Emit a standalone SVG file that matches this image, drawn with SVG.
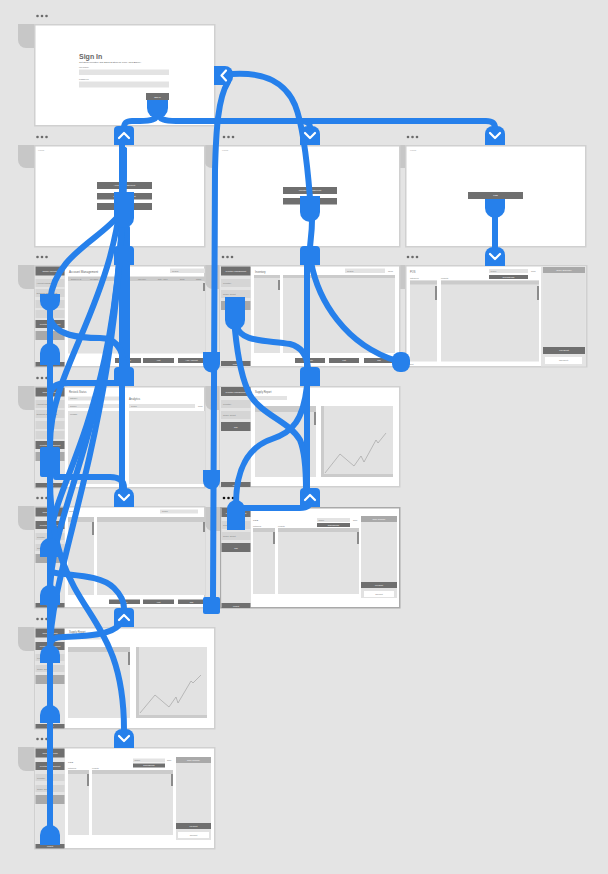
<svg xmlns="http://www.w3.org/2000/svg" width="608" height="874" viewBox="0 0 608 874">
<defs>
<style>
.bg{fill:#e4e4e4}
.tab{fill:#c7c7c7}
.frame{fill:#fff;stroke:#d0d0d0;stroke-width:1.5}
.sel{stroke:#a9a9a9}
.dots{fill:#6b6b6b}
.side{fill:#e4e4e4}
.item{fill:#d5d5d5}
.dk{fill:#6f6f6f}
.md{fill:#a9a9a9}
.panel{fill:#e2e2e2}
.ph{fill:#cbcbcb}
.sb{fill:#8c8c8c}
.field{fill:#e3e3e3}
.white{fill:#fff}
text{font-family:"Liberation Sans",Arial,sans-serif}
.t{fill:#7a7a7a;font-size:2.2px}
.h{fill:#666;font-size:3px}
.w{fill:#fff;font-size:2.2px;text-anchor:middle}
.c{fill:#777;font-size:2.2px;text-anchor:middle}
.wire{fill:none;stroke:#2680eb;stroke-width:6;stroke-linecap:round;stroke-linejoin:round}
.blue{fill:#2680eb}
.chev{fill:none;stroke:#fff;stroke-width:2.2;stroke-linecap:round;stroke-linejoin:round}
.chart{fill:none;stroke:#9a9a9a;stroke-width:0.6}
</style>
<g id="tab-down"><path class="blue" d="M-10,0 V-11 A8,8 0 0 1 -2,-19 H2 A8,8 0 0 1 10,-11 V0 Z"/><polyline class="chev" points="-5,-12 0,-7 5,-12"/></g>
<g id="tab-up"><path class="blue" d="M-10,0 V-15 A4,4 0 0 1 -6,-19 H6 A4,4 0 0 1 10,-15 V0 Z"/><polyline class="chev" points="-5,-7 0,-12 5,-7"/></g>
<g id="tab-plain"><path class="blue" d="M-10,0 V-15 A4,4 0 0 1 -6,-19 H6 A4,4 0 0 1 10,-15 V0 Z"/></g>
<g id="dots3"><circle cx="0" cy="0" r="1.3"/><circle cx="4.5" cy="0" r="1.3"/><circle cx="9" cy="0" r="1.3"/></g>
</defs>

<rect class="bg" x="0" y="0" width="608" height="874"/>

<!-- artboard tabs -->
<g id="tabs">
<path class="tab" d="M34,24 V48 H26 A8,8 0 0 1 18,40 V24 Z"/>
<path class="tab" d="M34,145 V168 H26 A8,8 0 0 1 18,160 V145 Z"/>
<path class="tab" d="M216,145 V168 H212 A8,8 0 0 1 204,160 V145 Z"/>
<path class="tab" d="M405,145 V168 H399 A8,8 0 0 1 391,160 V145 Z"/>
<path class="tab" d="M34,265 V289 H26 A8,8 0 0 1 18,281 V265 Z"/>
<path class="tab" d="M219,265 V289 H213 A8,8 0 0 1 205,281 V265 Z"/>
<path class="tab" d="M405,265 V289 H399 A8,8 0 0 1 391,281 V265 Z"/>
<path class="tab" d="M34,386 V410 H26 A8,8 0 0 1 18,402 V386 Z"/>
<path class="tab" d="M219,386 V410 H213 A8,8 0 0 1 205,402 V386 Z"/>
<path class="tab" d="M34,506 V530 H26 A8,8 0 0 1 18,522 V506 Z"/>
<path class="tab" d="M220,507 V531 H213 A8,8 0 0 1 205,523 V507 Z"/>
<path class="tab" d="M34,627 V651 H26 A8,8 0 0 1 18,643 V627 Z"/>
<path class="tab" d="M34,747 V771 H26 A8,8 0 0 1 18,763 V747 Z"/>
</g>

<!-- sign in -->
<g id="screen-signin">
<use href="#dots3" class="dots" x="37.5" y="16"/>
<rect class="frame" x="34.75" y="24.75" width="180" height="101"/>
<text x="79" y="59" style="font-size:7px;font-weight:bold;fill:#666">Sign In</text>
<text class="t" x="79" y="63" style="font-size:2.3px;fill:#555">Get Shop Inventory and Sales System for 'Kopi Ahli's Bakery'</text>
<text class="t" x="79" y="67.8" style="font-size:2.2px">Username</text>
<rect class="field" x="79" y="69.5" width="90" height="5.5"/>
<text class="t" x="79" y="79.8" style="font-size:2.2px">Password</text>
<rect class="field" x="79" y="81.5" width="90" height="6"/>
<rect class="dk" x="146" y="93" width="23" height="7"/>
<text class="w" x="157.5" y="97.5">Sign in</text>
</g>

<!-- role home screens -->
<g id="screen-admin-home">
<use href="#dots3" class="dots" x="37.5" y="137"/>
<rect class="frame" x="34.75" y="145.75" width="170" height="101"/>
<text class="t" x="38" y="151" style="fill:#aaa">LOGO</text>
<rect class="dk" x="97" y="182" width="55" height="7"/><text class="w" x="124.5" y="186.4">Account Management</text>
<rect class="dk" x="97" y="193" width="55" height="6.5"/><text class="w" x="124.5" y="197.2">Inventory Management</text>
<rect class="dk" x="97" y="203" width="55" height="7"/><text class="w" x="124.5" y="207.4">POS</text>
</g>

<g id="screen-inventory-home">
<use href="#dots3" class="dots" x="224" y="137"/>
<rect class="frame" x="216.75" y="145.75" width="183" height="101"/>
<text class="t" x="222" y="151" style="fill:#aaa">LOGO</text>
<rect class="dk" x="283" y="187" width="54" height="7"/><text class="w" x="310" y="191.4">Inventory Management</text>
<rect class="dk" x="283" y="198" width="54" height="6.5"/><text class="w" x="310" y="202.2">Supply Report</text>
</g>

<g id="screen-cashier-home">
<use href="#dots3" class="dots" x="408" y="137"/>
<rect class="frame" x="405.75" y="145.75" width="180" height="101"/>
<text class="t" x="410" y="151" style="fill:#aaa">LOGO</text>
<rect class="dk" x="468" y="192" width="55" height="7"/><text class="w" x="495.5" y="196.4">POS</text>
</g>

<!-- account management -->
<g id="screen-accounts">
<use href="#dots3" class="dots" x="37.5" y="257"/>
<rect class="frame" x="34.75" y="265.75" width="170" height="101"/>
<rect class="side" x="35.5" y="266.5" width="29.5" height="100"/>
<rect class="dk" x="35.5" y="266.5" width="29" height="9"/><text class="w" x="50" y="272">adminAccounts</text>
<rect class="item" x="35.5" y="279" width="29" height="8"/><text class="t" x="36.5" y="284" style="font-size:2px">Account Management</text>
<rect class="item" x="35.5" y="289" width="29" height="8"/><text class="t" x="36.5" y="294" style="font-size:2px">Suppliers Management</text>
<rect class="item" x="35.5" y="300" width="29" height="8"/>
<rect class="item" x="35.5" y="310" width="29" height="8"/>
<rect class="dk" x="35.5" y="320" width="29" height="8"/><text class="w" x="50" y="325" style="font-size:2px">Inventory Management</text>
<rect class="md" x="35.5" y="331" width="29" height="9"/>
<rect class="dk" x="35.5" y="362" width="29" height="4.5"/><text class="w" x="50" y="365.3" style="font-size:2px">Logout</text>
<text class="h" x="69" y="272.5">Account Management</text>
<rect class="field" x="170" y="268.5" width="35" height="4.5"/><text class="t" x="172" y="271.6" style="font-size:2px">Search</text>
<rect class="ph" x="68" y="276.5" width="137" height="5"/>
<text class="t" x="71" y="279.8" style="font-size:1.8px">Employee ID</text>
<text class="t" x="90" y="279.8" style="font-size:1.8px">Full Name</text>
<text class="t" x="117" y="279.8" style="font-size:1.8px">Username</text>
<text class="t" x="138" y="279.8" style="font-size:1.8px">User Role</text>
<text class="t" x="158" y="279.8" style="font-size:1.8px">Date Added</text>
<text class="t" x="180" y="279.8" style="font-size:1.8px">Email</text>
<text class="t" x="196" y="279.8" style="font-size:1.8px">Status</text>
<rect class="panel" x="68" y="281.5" width="137" height="72"/>
<rect class="sb" x="203" y="283" width="2" height="8"/>
<rect class="dk" x="115" y="358" width="26" height="5"/><text class="w" x="128" y="361.3">delete</text>
<rect class="dk" x="143" y="358" width="31" height="5"/><text class="w" x="158.5" y="361.3">edit</text>
<rect class="dk" x="178" y="358" width="27" height="5"/><text class="w" x="191.5" y="361.3">Add Account</text>
</g>

<!-- inventory -->
<g id="screen-inventory">
<use href="#dots3" class="dots" x="223" y="257"/>
<rect class="frame" x="219.75" y="265.75" width="180" height="101"/>
<rect class="side" x="220.5" y="266.5" width="30.5" height="100"/>
<rect class="dk" x="221" y="266.5" width="29.5" height="9"/><text class="w" x="235.75" y="272" style="font-size:2px">Inventory Management</text>
<rect class="item" x="221" y="279" width="29.5" height="8"/><text class="t" x="223" y="284" style="font-size:2px">Inventory</text>
<rect class="item" x="221" y="290" width="29.5" height="8"/><text class="t" x="223" y="295" style="font-size:2px">Supply Report</text>
<rect class="md" x="221" y="301" width="29.5" height="9"/>
<rect class="dk" x="221" y="361" width="29.5" height="5"/><text class="w" x="235.75" y="364.5" style="font-size:2px">Logout</text>
<text class="h" x="255" y="272.5" style="font-size:2.6px">Inventory</text>
<rect class="field" x="345" y="268.5" width="40" height="4.5"/><text class="t" x="347" y="271.6" style="font-size:2px">Search</text>
<text class="t" x="388" y="271.8" style="font-size:2px">Show</text>
<rect class="panel" x="254" y="275" width="26" height="78"/><rect class="ph" x="254" y="275" width="26" height="3"/><rect class="sb" x="278" y="280" width="2" height="10"/>
<rect class="panel" x="283" y="275" width="112" height="78"/><rect class="ph" x="283" y="275" width="112" height="3"/>
<rect class="dk" x="295" y="358" width="30" height="5"/><text class="w" x="310" y="361.3">delete</text>
<rect class="dk" x="329" y="358" width="30" height="5"/><text class="w" x="344" y="361.3">edit</text>
<rect class="dk" x="364" y="358" width="30" height="5"/><text class="w" x="379" y="361.3">add</text>
</g>

<!-- cashier pos -->
<g id="screen-pos">
<use href="#dots3" class="dots" x="408" y="257"/>
<rect class="frame" x="405.75" y="265.75" width="181" height="101"/>
<rect class="side" x="541" y="266.5" width="45" height="100"/>
<rect class="panel" x="543" y="267" width="42" height="80"/>
<rect class="md" x="543" y="267" width="42" height="6"/><text class="w" x="564" y="270.8">Order Summary</text>
<rect class="dk" x="543" y="347" width="42" height="7"/><text class="w" x="564" y="351.3">Pay/Debit</text>
<rect class="white" x="545" y="357" width="37" height="7"/><text class="c" x="563.5" y="361.3">Checkout</text>
<text class="h" x="410" y="272.5" style="font-size:2.6px">POS</text>
<rect class="field" x="489" y="269" width="39" height="4"/><text class="t" x="490.5" y="271.8" style="font-size:1.8px">Search</text>
<text class="t" x="531" y="272" style="font-size:1.8px">Show</text>
<rect class="dk" x="489" y="275" width="39" height="4"/><text class="w" x="508.5" y="277.8" style="font-size:1.8px">Search/Browse</text>
<text class="t" x="410" y="279.3" style="font-size:1.8px">Categories</text>
<text class="t" x="441" y="279.3" style="font-size:1.8px">Products</text>
<rect class="panel" x="410" y="280.5" width="27" height="81"/><rect class="ph" x="410" y="280.5" width="27" height="4"/><rect class="sb" x="435" y="286" width="2" height="14"/>
<rect class="panel" x="441" y="280.5" width="98" height="81"/><rect class="ph" x="441" y="280.5" width="98" height="4"/><rect class="sb" x="537" y="286" width="2" height="14"/>
<text class="t" x="408" y="365" style="font-size:1.8px">Logout</text>
</g>

<!-- analytics -->
<g id="screen-analytics">
<use href="#dots3" class="dots" x="37.5" y="378"/>
<rect class="frame" x="34.75" y="386.75" width="170" height="101"/>
<rect class="side" x="35.5" y="387.5" width="29.5" height="100"/>
<rect class="dk" x="35.5" y="387.5" width="29" height="9"/><text class="w" x="50" y="393">adminAccounts</text>
<rect class="item" x="35.5" y="400" width="29" height="8"/><text class="t" x="36.5" y="405" style="font-size:2px">Account Management</text>
<rect class="item" x="35.5" y="410" width="29" height="8"/><text class="t" x="36.5" y="415" style="font-size:2px">Suppliers Management</text>
<rect class="item" x="35.5" y="421" width="29" height="8"/>
<rect class="item" x="35.5" y="431" width="29" height="8"/>
<rect class="dk" x="35.5" y="441" width="29" height="8"/><text class="w" x="50" y="446" style="font-size:2px">Inventory Management</text>
<rect class="md" x="35.5" y="452" width="29" height="9"/>
<rect class="dk" x="35.5" y="483" width="29" height="4.5"/><text class="w" x="50" y="486.3" style="font-size:2px">Logout</text>
<text class="h" x="69" y="392.5" style="font-size:2.6px">Restock Status</text>
<rect class="field" x="68" y="396.5" width="54" height="4"/><text class="t" x="70" y="399.3" style="font-size:1.8px">Category</text>
<rect class="field" x="68" y="404" width="54" height="4"/><text class="t" x="70" y="406.8" style="font-size:1.8px">Supplier</text>
<rect class="panel" x="68" y="411" width="54" height="73"/><text class="t" x="70" y="414.5" style="font-size:1.8px">Message</text>
<text class="h" x="129" y="400" style="font-size:2.8px">Analytics</text>
<rect class="field" x="129" y="404" width="66" height="4"/><text class="t" x="131" y="406.8" style="font-size:1.8px">Search</text>
<text class="t" x="198" y="406.8" style="font-size:1.8px">Show</text>
<rect class="panel" x="129" y="411" width="76" height="73"/>
</g>

<!-- supply report -->
<g id="screen-supply-report">
<rect class="frame" x="219.75" y="386.75" width="180" height="100"/>
<rect class="side" x="220.5" y="387.5" width="30.5" height="99"/>
<rect class="dk" x="221" y="387" width="29.5" height="9"/><text class="w" x="235.75" y="392.8" style="font-size:2px">Inventory Management</text>
<rect class="item" x="221" y="400" width="29.5" height="8"/><text class="t" x="223" y="405" style="font-size:2px">Inventory</text>
<rect class="item" x="221" y="411" width="29.5" height="8"/><text class="t" x="223" y="416" style="font-size:2px">Supply Report</text>
<rect class="dk" x="221" y="422" width="29.5" height="9"/><text class="w" x="235.75" y="427.5">add</text>
<rect class="dk" x="221" y="482" width="29.5" height="5"/><text class="w" x="235.75" y="485.5" style="font-size:2px">Logout</text>
<text class="h" x="255" y="392.5" style="font-size:2.6px">Supply Report</text>
<rect class="field" x="255" y="396" width="32" height="4"/>
<rect class="panel" x="255" y="406" width="61" height="71"/><rect class="ph" x="255" y="406" width="61" height="6"/><rect class="sb" x="314" y="412" width="2" height="13"/>
<rect class="panel" x="321" y="406" width="72" height="71"/><rect class="ph" x="321" y="406" width="3" height="71"/><rect class="ph" x="321" y="474" width="72" height="3"/>
<polyline class="chart" points="325,473 340,454 354,466 361,456 364,462 376,440 378,443 386,433"/>
</g>

<!-- admin inventory -->
<g id="screen-admin-inventory">
<use href="#dots3" class="dots" x="37.5" y="498"/>
<rect class="frame" x="34.75" y="506.75" width="170" height="101"/>
<rect class="side" x="35.5" y="507.5" width="29.5" height="100"/>
<rect class="dk" x="35.5" y="507.5" width="29" height="9"/><text class="w" x="50" y="513">adminAccounts</text>
<rect class="dk" x="35.5" y="521" width="29" height="8"/><text class="w" x="50" y="526" style="font-size:2px">Inventory Management</text>
<rect class="item" x="35.5" y="533" width="29" height="7"/><text class="t" x="37" y="537.5" style="font-size:2px">Inventory</text>
<rect class="item" x="35.5" y="544" width="29" height="7"/><text class="t" x="37" y="548.5" style="font-size:2px">Supply Report</text>
<rect class="md" x="35.5" y="554" width="29" height="9"/>
<rect class="dk" x="35.5" y="603" width="29" height="4.5"/><text class="w" x="50" y="606.3" style="font-size:2px">Logout</text>
<text class="h" x="69" y="512" style="font-size:2.4px">Inventory</text>
<rect class="field" x="160" y="509.5" width="38" height="4"/><text class="t" x="162" y="512.3" style="font-size:1.8px">Search</text>
<rect class="panel" x="68" y="517" width="26" height="78"/><rect class="ph" x="68" y="517" width="26" height="5"/><rect class="sb" x="92" y="522" width="2" height="13"/>
<rect class="panel" x="97" y="517" width="108" height="78"/><rect class="ph" x="97" y="517" width="108" height="5"/><rect class="sb" x="203" y="522" width="2" height="10"/>
<rect class="dk" x="109" y="599.5" width="31" height="4.5"/><text class="w" x="124.5" y="602.6">delete</text>
<rect class="dk" x="143" y="599.5" width="31" height="4.5"/><text class="w" x="158.5" y="602.6">edit</text>
<rect class="dk" x="178" y="599.5" width="27" height="4.5"/><text class="w" x="191.5" y="602.6">add</text>
</g>

<!-- inventory pos -->
<g id="screen-inventory-pos">
<use href="#dots3" x="224" y="498" style="fill:#111"/>
<rect class="frame sel" x="220.75" y="507.75" width="179" height="100"/>
<rect class="side" x="221.5" y="508.5" width="29.5" height="99"/>
<rect class="dk" x="221.5" y="508" width="29" height="9"/><text class="w" x="236" y="513.8" style="font-size:2px">Inventory Management</text>
<rect class="item" x="221.5" y="521" width="29" height="8"/><text class="t" x="223" y="526" style="font-size:2px">Inventory</text>
<rect class="item" x="221.5" y="532" width="29" height="8"/><text class="t" x="223" y="537" style="font-size:2px">Supply Report</text>
<rect class="dk" x="221.5" y="543" width="29" height="9"/><text class="w" x="236" y="548.5">add</text>
<rect class="dk" x="221.5" y="603" width="29" height="5"/><text class="w" x="236" y="606.5" style="font-size:2px">Logout</text>
<text class="h" x="253" y="521" style="font-size:2.4px">POS</text>
<rect class="field" x="317" y="518" width="33" height="4"/><text class="t" x="318.5" y="520.7" style="font-size:1.7px">Search</text>
<text class="t" x="353" y="520.8" style="font-size:1.7px">Show</text>
<rect class="dk" x="317" y="523" width="33" height="4"/><text class="w" x="333.5" y="525.7" style="font-size:1.7px">Search/Browse</text>
<text class="t" x="253" y="526.8" style="font-size:1.7px">Categories</text>
<text class="t" x="278" y="526.8" style="font-size:1.7px">Products</text>
<rect class="panel" x="253" y="528" width="22" height="66"/><rect class="ph" x="253" y="528" width="22" height="4"/><rect class="sb" x="273" y="532" width="2" height="12"/>
<rect class="panel" x="278" y="528" width="81" height="66"/><rect class="ph" x="278" y="528" width="81" height="4"/><rect class="sb" x="357" y="532" width="2" height="12"/>
<rect class="panel" x="361" y="516" width="36" height="82"/>
<rect class="md" x="361" y="516" width="36" height="6"/><text class="w" x="379" y="519.8" style="font-size:1.8px">Order Summary</text>
<rect class="dk" x="361" y="582" width="36" height="6"/><text class="w" x="379" y="585.8" style="font-size:1.8px">Pay/Debit</text>
<rect class="white" x="364" y="591" width="30" height="6"/><text class="c" x="379" y="594.8" style="font-size:1.8px">Checkout</text>
</g>

<!-- admin supply report -->
<g id="screen-admin-supply-report">
<use href="#dots3" class="dots" x="37.5" y="619"/>
<rect class="frame" x="34.75" y="627.75" width="180" height="101"/>
<rect class="side" x="35.5" y="628.5" width="29.5" height="100"/>
<rect class="dk" x="35.5" y="628.5" width="29" height="9"/><text class="w" x="50" y="634">adminAccounts</text>
<rect class="dk" x="35.5" y="642" width="29" height="8"/><text class="w" x="50" y="647" style="font-size:2px">Inventory Management</text>
<rect class="item" x="35.5" y="654" width="29" height="7"/><text class="t" x="37" y="658.5" style="font-size:2px">Inventory</text>
<rect class="item" x="35.5" y="665" width="29" height="7"/><text class="t" x="37" y="669.5" style="font-size:2px">Supply Report</text>
<rect class="md" x="35.5" y="675" width="29" height="9"/>
<rect class="dk" x="35.5" y="724" width="29" height="4.5"/><text class="w" x="50" y="727.3" style="font-size:2px">Logout</text>
<text class="h" x="69" y="633" style="font-size:2.6px">Supply Report</text>
<rect class="field" x="68" y="636" width="33" height="3.5"/>
<rect class="panel" x="68" y="647" width="62" height="71"/><rect class="ph" x="68" y="647" width="62" height="5"/><rect class="sb" x="128" y="652" width="2" height="13"/>
<rect class="panel" x="136" y="647" width="71" height="71"/><rect class="ph" x="136" y="647" width="3" height="71"/><rect class="ph" x="136" y="715" width="71" height="3"/>
<polyline class="chart" points="140,713 155,695 169,707 176,697 178,703 191,681 193,683 201,675"/>
</g>

<!-- admin pos -->
<g id="screen-admin-pos">
<use href="#dots3" class="dots" x="37.5" y="739"/>
<rect class="frame" x="34.75" y="747.75" width="180" height="101"/>
<rect class="side" x="35.5" y="748.5" width="29.5" height="100"/>
<rect class="dk" x="35.5" y="748.5" width="29" height="9"/><text class="w" x="50" y="754">adminAccounts</text>
<rect class="dk" x="35.5" y="762" width="29" height="8"/><text class="w" x="50" y="767" style="font-size:2px">Inventory Management</text>
<rect class="item" x="35.5" y="774" width="29" height="7"/><text class="t" x="37" y="778.5" style="font-size:2px">Inventory</text>
<rect class="item" x="35.5" y="785" width="29" height="7"/><text class="t" x="37" y="789.5" style="font-size:2px">Supply Report</text>
<rect class="md" x="35.5" y="795" width="29" height="9"/>
<rect class="dk" x="35.5" y="844" width="29" height="4.5"/><text class="w" x="50" y="847.3" style="font-size:2px">Logout</text>
<text class="h" x="68" y="762.5" style="font-size:2.4px">POS</text>
<rect class="field" x="133" y="758.5" width="32" height="4"/><text class="t" x="134.5" y="761.2" style="font-size:1.7px">Search</text>
<text class="t" x="167" y="761.3" style="font-size:1.7px">Show</text>
<rect class="dk" x="133" y="763.5" width="32" height="4"/><text class="w" x="149" y="766.2" style="font-size:1.7px">Search/Browse</text>
<text class="t" x="68" y="768.8" style="font-size:1.7px">Categories</text>
<text class="t" x="92" y="768.8" style="font-size:1.7px">Products</text>
<rect class="panel" x="68" y="770" width="21" height="65"/><rect class="ph" x="68" y="770" width="21" height="4"/><rect class="sb" x="87" y="774" width="2" height="12"/>
<rect class="panel" x="92" y="770" width="81" height="65"/><rect class="ph" x="92" y="770" width="81" height="4"/><rect class="sb" x="171" y="774" width="2" height="12"/>
<rect class="panel" x="176" y="757" width="35" height="83"/>
<rect class="md" x="176" y="757" width="35" height="6"/><text class="w" x="193.5" y="760.8" style="font-size:1.8px">Order Summary</text>
<rect class="dk" x="176" y="823" width="35" height="6"/><text class="w" x="193.5" y="826.8" style="font-size:1.8px">Pay/Debit</text>
<rect class="white" x="178" y="832" width="31" height="6"/><text class="c" x="193.5" y="835.8" style="font-size:1.8px">Checkout</text>
</g>

<!-- prototype wires -->
<g id="connectors">
<g id="wires">
<path class="wire" d="M158,112 C158,120 150,121 140,121 L132,121 C126,121 124,123 124,128"/>
<path class="wire" d="M158,112 C158,120 166,121 176,121 L486,121 C492,121 495,123 495,128"/>
<path class="wire" d="M300,121 C307,121 310,123 310,128"/>
<path class="wire" d="M310,198 C307,160 303,125 295,105 C285,82 265,72 232,74"/>
<path class="wire" d="M228,82 C218,98 216,130 215,170 L213,600"/>
<path class="wire" d="M312,220 C312,235 310,240 310,250"/>
<path class="wire" d="M495,215 L495,250"/>
<path class="wire" d="M307,262 L307,492"/>
<path class="wire" d="M311,262 C318,300 345,345 397,361"/>
<path class="wire" d="M237,326 C240,342 265,340 290,344 C302,347 307,356 308,368"/>
<path class="wire" d="M235,330 C238,360 242,380 250,395 C262,415 290,422 300,440 C305,452 306,470 306,490"/>
<path class="wire" d="M236,504 C236,470 248,447 272,439 C293,432 303,420 307,386"/>
<path class="wire" d="M243,508 L300,508 C306,508 309,506 310,503"/>
<path class="wire" d="M122,145 L122,490"/>
<path class="wire" d="M127,228 L127,372"/>
<path class="wire" d="M120,214 C100,240 55,255 50,300"/>
<path class="wire" d="M124,150 C124,300 50,360 50,445"/>
<path class="wire" d="M124,150 C124,420 50,480 50,545"/>
<path class="wire" d="M124,150 C124,420 50,500 50,595"/>
<path class="wire" d="M124,150 C124,420 50,560 50,650"/>
<path class="wire" d="M50,300 L50,840"/>
<path class="wire" d="M50,318 C55,336 80,338 100,338 C117,338 123,350 124,366"/>
<path class="wire" d="M50,396 C50,387 56,383 68,383 L120,383"/>
<path class="wire" d="M56,477 L110,477 C120,477 124,481 124,488"/>
<path class="wire" d="M50,477 C50,620 124,600 124,730"/>
<path class="wire" d="M50,572 C70,576 100,574 114,588 C121,595 124,601 124,608"/>
<path class="wire" d="M119,625 C110,636 80,636 62,637 C54,637 50,641 50,646"/>
</g>
<g id="handles">
<path class="blue" d="M147,100 H168 V108 A10.5,10.5 0 0 1 147,108 Z"/>
<path class="blue" d="M114,192 H134 V218 A10,10 0 0 1 114,218 Z"/>
<path class="blue" d="M300,196 H320 V212 A10,10 0 0 1 300,212 Z"/>
<path class="blue" d="M485,199 H505 V208 A10,10 0 0 1 485,208 Z"/>
<path class="blue" d="M225,297 H245 V320 A10,10 0 0 1 225,320 Z"/>
<path class="blue" d="M40,294 H60 V301 A10,10 0 0 1 40,301 Z"/>
<path class="blue" d="M40,365 V353 A10,10 0 0 1 60,353 V365 Z"/>
<rect class="blue" x="40" y="447" width="20" height="30" rx="2"/>
<path class="blue" d="M40,557 V548 A10,10 0 0 1 60,548 V557 Z"/>
<path class="blue" d="M40,605 V595 A10,10 0 0 1 60,595 V605 Z"/>
<path class="blue" d="M40,663 V655 A10,10 0 0 1 60,655 V663 Z"/>
<path class="blue" d="M40,723 V715 A10,10 0 0 1 60,715 V723 Z"/>
<path class="blue" d="M40,845 V835 A10,10 0 0 1 60,835 V845 Z"/>
<path class="blue" d="M203,352 H220 V364 A8.5,8.5 0 0 1 203,364 Z"/>
<path class="blue" d="M203,470 H220 V481 A8.5,8.5 0 0 1 203,481 Z"/>
<rect class="blue" x="203" y="597" width="17" height="17" rx="2"/>
<rect class="blue" x="392" y="352" width="18" height="20" rx="8"/>
<path class="blue" d="M227,530 V509 A9,9 0 0 1 245,509 V530 Z"/>
</g>
<g id="targets">
<path class="blue" d="M214,66 H225 A8,8 0 0 1 233,74 V77 A8,8 0 0 1 225,85 H214 Z"/>
<polyline class="chev" points="226,70.5 221.5,75.5 226,80.5"/>
<use href="#tab-up" x="124" y="145"/>
<use href="#tab-down" x="310" y="145"/>
<use href="#tab-down" x="495" y="145"/>
<use href="#tab-plain" x="124" y="265"/>
<use href="#tab-plain" x="310" y="265"/>
<use href="#tab-down" x="495" y="266"/>
<use href="#tab-plain" x="124" y="386"/>
<use href="#tab-plain" x="310" y="386"/>
<use href="#tab-down" x="124" y="507"/>
<use href="#tab-up" x="310" y="507"/>
<use href="#tab-up" x="124" y="627"/>
<use href="#tab-down" x="124" y="748"/>
</g>
</g>
</svg>
